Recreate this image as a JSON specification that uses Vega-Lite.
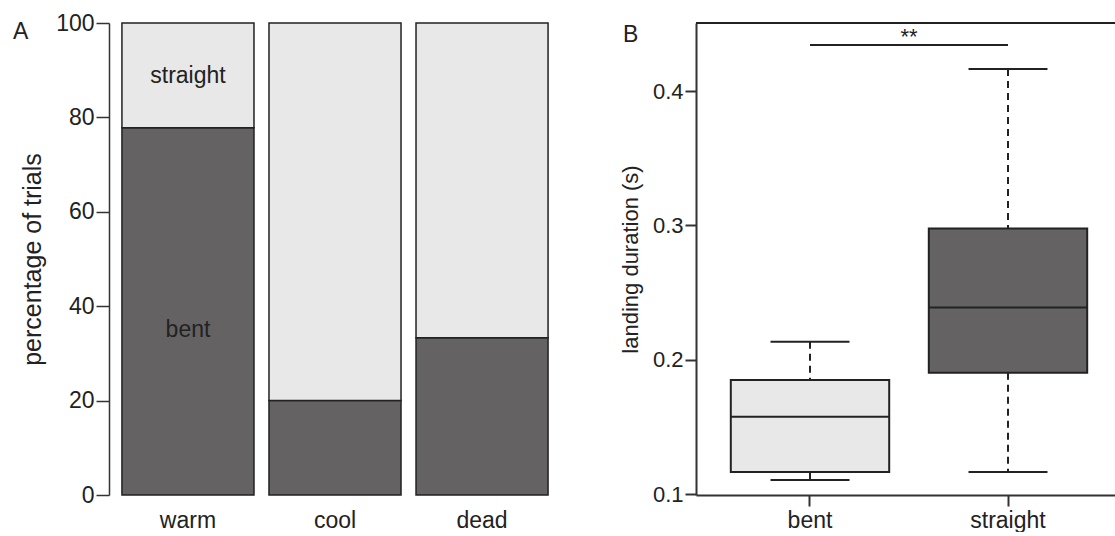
{
  "$schema": "https://vega.github.io/schema/vega-lite/v6.json",
  "padding": {"left": 13, "top": 12, "right": 0, "bottom": 0},
  "background": "white",
  "spacing": 58,
  "resolve": {"scale": {"color": "independent"}},
  "config": {
    "font": "Liberation Sans",
    "view": {"stroke": null},
    "title": {"fontSize": 23, "fontWeight": "normal", "color": "#222"},
    "axis": {
      "labelFont": "Liberation Sans",
      "titleFont": "Liberation Sans",
      "labelColor": "#222",
      "titleColor": "#222",
      "titleFontWeight": "normal",
      "grid": false,
      "domainColor": "#333",
      "tickColor": "#333"
    }
  },
  "hconcat": [
    {
      "width": 452,
      "height": 472,
      "title": {"text": "A", "anchor": "start", "frame": "group", "dx": -96, "offset": -32, "baseline": "top", "align": "left", "fontSize": 23, "fontWeight": "normal", "font": "Liberation Sans", "color": "#222"},
      "data": {
        "values": [
          {"condition": "warm", "shape": "bent", "percent": 77.8},
          {"condition": "warm", "shape": "straight", "percent": 22.2},
          {"condition": "cool", "shape": "bent", "percent": 20},
          {"condition": "cool", "shape": "straight", "percent": 80},
          {"condition": "dead", "shape": "bent", "percent": 33.3},
          {"condition": "dead", "shape": "straight", "percent": 66.7}
        ]
      },
      "layer": [
        {
          "mark": {"type": "bar", "stroke": "#222", "strokeWidth": 1.5},
          "encoding": {
            "x": {
              "field": "condition", "type": "nominal", "sort": ["warm", "cool", "dead"],
              "scale": {"paddingInner": 0.102, "paddingOuter": 0.088},
              "axis": {"title": null, "domain": false, "ticks": false, "labelAngle": 0, "labelPadding": 14, "labelFontSize": 23}
            },
            "y": {
              "field": "percent", "type": "quantitative", "stack": "zero",
              "scale": {"domain": [0, 100]},
              "axis": {"title": "percentage of trials", "values": [0, 20, 40, 60, 80, 100], "tickSize": 13, "domainWidth": 1.5, "tickWidth": 1.5, "labelPadding": 2, "labelFontSize": 23, "titleFontSize": 25, "titlePadding": 10}
            },
            "color": {"field": "shape", "type": "nominal", "scale": {"domain": ["bent", "straight"], "range": ["#646263", "#e8e8e8"]}, "legend": null},
            "order": {"field": "shape", "sort": "ascending"}
          }
        },
        {
          "data": {"values": [
            {"condition": "warm", "label": "straight", "pos": 88.8},
            {"condition": "warm", "label": "bent", "pos": 35}
          ]},
          "mark": {"type": "text", "fontSize": 23, "color": "#222", "font": "Liberation Sans"},
          "encoding": {
            "x": {"field": "condition", "type": "nominal", "sort": ["warm", "cool", "dead"]},
            "y": {"field": "pos", "type": "quantitative"},
            "text": {"field": "label"}
          }
        }
      ]
    },
    {
      "width": 420,
      "height": 472,
      "title": {"text": "B", "anchor": "start", "frame": "group", "dx": -73, "offset": -25, "baseline": "top", "align": "left", "fontSize": 23, "fontWeight": "normal", "font": "Liberation Sans", "color": "#222"},
      "data": {
        "values": [
          {"shape": "bent", "lower": 0.1104, "q1": 0.1164, "median": 0.1575, "q3": 0.185, "upper": 0.2134},
          {"shape": "straight", "lower": 0.1164, "q1": 0.1903, "median": 0.2388, "q3": 0.2978, "upper": 0.4164}
        ]
      },
      "layer": [
        {
          "mark": {"type": "rule", "color": "#222", "strokeWidth": 2, "strokeDash": [7, 5]},
          "encoding": {
            "x": {
              "field": "shape", "type": "nominal",
              "scale": {"domain": ["bent", "straight"], "paddingInner": 0, "paddingOuter": 0.0606, "align": 0.625},
              "axis": {"title": null, "labelAngle": 0, "tickSize": 11, "domainWidth": 2, "tickWidth": 2, "labelPadding": 3, "labelFontSize": 23}
            },
            "y": {
              "field": "upper", "type": "quantitative",
              "scale": {"domain": [0.0993, 0.4507], "nice": false, "zero": false},
              "axis": {"title": "landing duration (s)", "values": [0.1, 0.2, 0.3, 0.4], "format": ".1f", "tickSize": 11, "domainWidth": 2, "tickWidth": 2, "labelPadding": 2, "labelFontSize": 22, "titleFontSize": 22, "titlePadding": 10}
            },
            "y2": {"field": "q3"}
          }
        },
        {
          "mark": {"type": "rule", "color": "#222", "strokeWidth": 2, "strokeDash": [7, 5]},
          "encoding": {
            "x": {"field": "shape", "type": "nominal"},
            "y": {"field": "q1", "type": "quantitative"},
            "y2": {"field": "lower"}
          }
        },
        {
          "mark": {"type": "bar", "stroke": "#222", "strokeWidth": 2, "width": {"band": 0.8}},
          "encoding": {
            "x": {"field": "shape", "type": "nominal"},
            "y": {"field": "q1", "type": "quantitative"},
            "y2": {"field": "q3"},
            "color": {"field": "shape", "type": "nominal", "scale": {"domain": ["bent", "straight"], "range": ["#e8e8e8", "#646263"]}, "legend": null}
          }
        },
        {
          "mark": {"type": "tick", "color": "#222", "size": 158, "thickness": 2, "opacity": 1},
          "encoding": {
            "x": {"field": "shape", "type": "nominal"},
            "y": {"field": "median", "type": "quantitative"}
          }
        },
        {
          "mark": {"type": "tick", "color": "#222", "size": 79, "thickness": 2, "opacity": 1},
          "encoding": {
            "x": {"field": "shape", "type": "nominal"},
            "y": {"field": "upper", "type": "quantitative"}
          }
        },
        {
          "mark": {"type": "tick", "color": "#222", "size": 79, "thickness": 2, "opacity": 1},
          "encoding": {
            "x": {"field": "shape", "type": "nominal"},
            "y": {"field": "lower", "type": "quantitative"}
          }
        },
        {
          "data": {"values": [{"from": "bent", "to": "straight", "level": 0.4343, "mark": "**", "top": 0.4507}]},
          "layer": [
            {
              "mark": {"type": "rule", "color": "#222", "strokeWidth": 2},
              "encoding": {
                "x": {"field": "from", "type": "nominal"},
                "x2": {"field": "to"},
                "y": {"field": "level", "type": "quantitative"}
              }
            },
            {
              "mark": {"type": "text", "fontSize": 22, "color": "#222", "baseline": "alphabetic", "dy": -1},
              "encoding": {
                "x": {"field": "to", "type": "nominal", "bandPosition": 0},
                "y": {"field": "level", "type": "quantitative"},
                "text": {"field": "mark"}
              }
            },
            {
              "mark": {"type": "rule", "color": "#222", "strokeWidth": 2},
              "encoding": {
                "y": {"field": "top", "type": "quantitative"}
              }
            }
          ]
        }
      ]
    }
  ]
}
